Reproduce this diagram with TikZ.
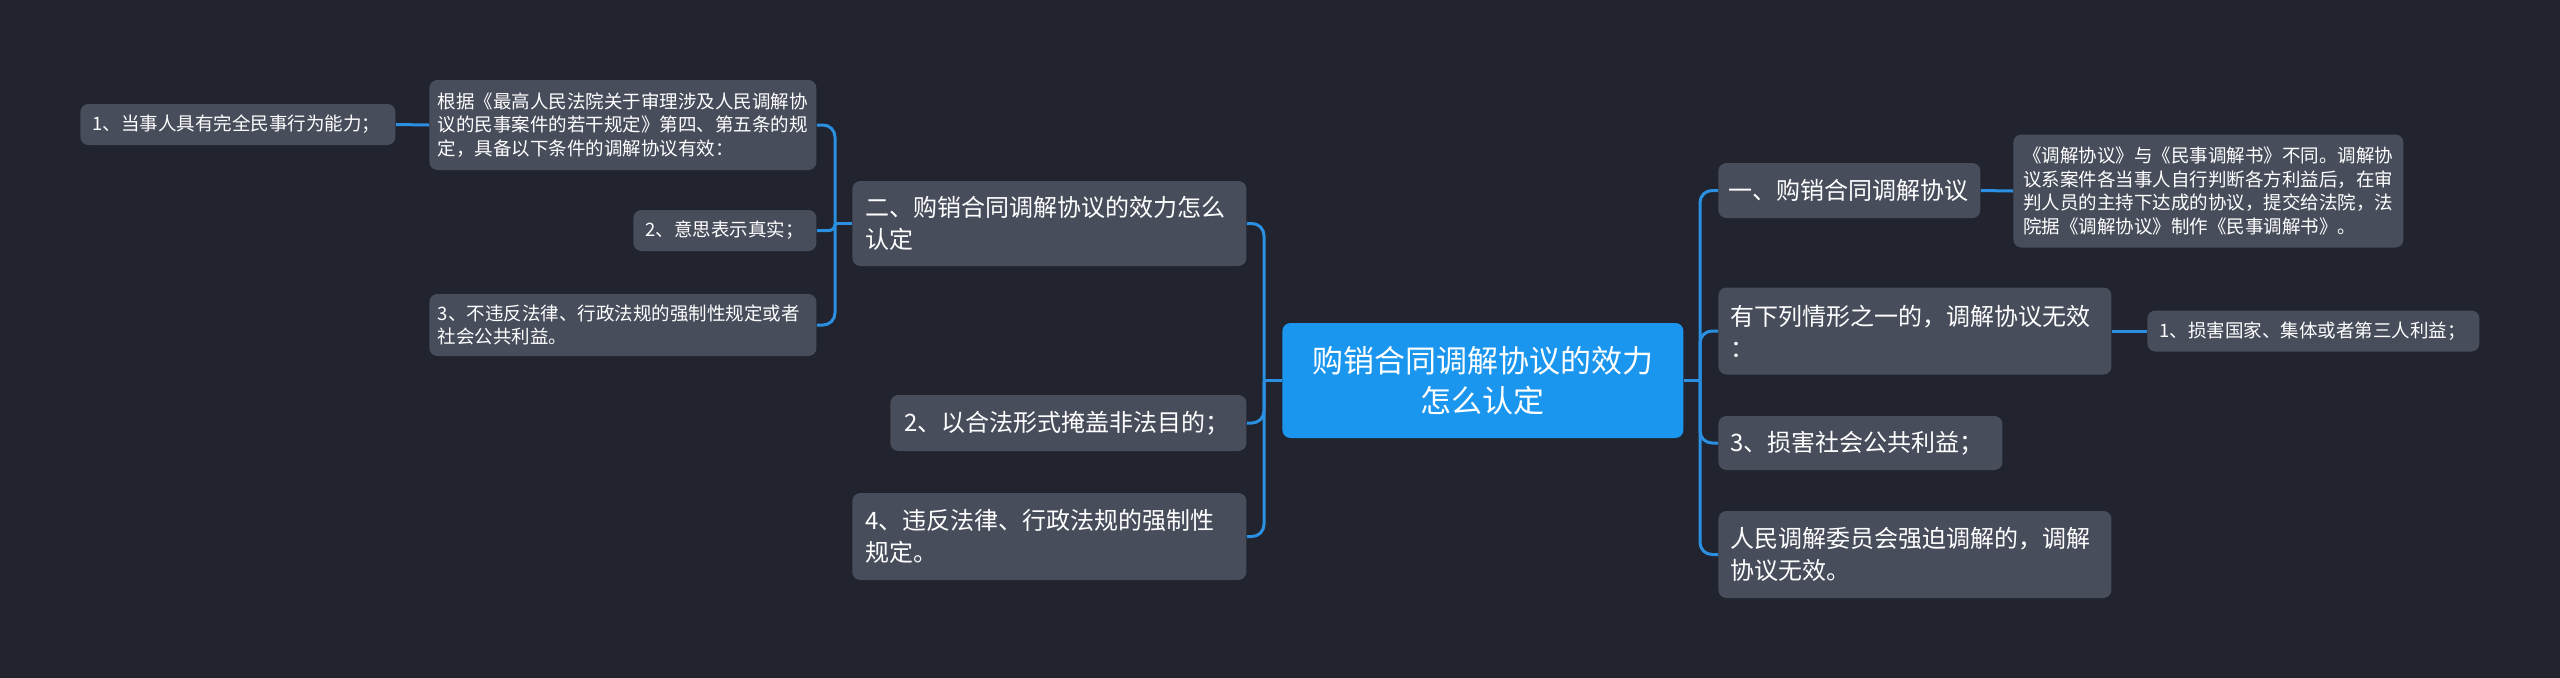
\documentclass[tikz,border=0pt]{standalone}
\usepackage{fontspec}
\setmainfont{Noto Sans CJK SC}
\definecolor{bgdark}{HTML}{21242E}
\definecolor{boxgray}{HTML}{484D5C}
\definecolor{rootblue}{HTML}{1A96EF}
\definecolor{linkblue}{HTML}{2B8FE2}
\begin{document}
\begin{tikzpicture}[x=0.5pt,y=-0.5pt,
	topic/.style={fill=boxgray,text=white,rounded corners=4pt,anchor=west,align=left,inner ysep=0pt,font=\fontsize{12pt}{16pt}\selectfont},
	detail/.style={topic,font=\fontsize{9.25pt}{11.7pt}\selectfont},
	link/.style={draw=linkblue,line width=1.5pt,rounded corners=6pt}]
	\useasboundingbox (0,0) rectangle (2560,677);
	\fill[bgdark] (-10,-10) rectangle (2570,687);
	
	\node[topic,fill=rootblue,align=center,text width=180pt,inner xsep=10.25pt,minimum height=57.5pt,font=\fontsize{15.5pt}{20pt}\selectfont] (root) at (1282,380.5) {购销合同调解协议的效力\\怎么认定};
	
	\node[topic,text width=184pt,inner xsep=6.5pt,minimum height=42.5pt] (validity) at (852,223.5) {二、购销合同调解协议的效力怎么\\认定};
	\node[topic,text width=164pt,inner xsep=7pt,minimum height=28pt] (disguise) at (890,423) {2、以合法形式掩盖非法目的；};
	\node[topic,text width=184pt,inner xsep=6.5pt,minimum height=43.5pt] (mandatory) at (852,536.5) {4、违反法律、行政法规的强制性\\规定。};
	
	\node[detail,text width=185pt,inner xsep=4.25pt,minimum height=45pt] (basis) at (429,125) {根据《最高人民法院关于审理涉及人民调解协\\议的民事案件的若干规定》第四、第五条的规\\定，具备以下条件的调解协议有效：};
	\node[detail,text width=79.5pt,inner xsep=6pt,minimum height=20.5pt] (genuine) at (633,230.5) {2、意思表示真实；};
	\node[detail,text width=185pt,inner xsep=4.25pt,minimum height=31pt] (lawful) at (429,325) {3、不违反法律、行政法规的强制性规定或者\\社会公共利益。};
	\node[detail,text width=145.5pt,inner xsep=6pt,minimum height=20.5pt] (capacity) at (80,124.5) {1、当事人具有完全民事行为能力；};
	
	\node[topic,text width=121pt,inner xsep=5pt,minimum height=27.5pt] (agreement) at (1718,190.5) {一、购销合同调解协议};
	\node[detail,text width=185pt,inner xsep=5pt,minimum height=56.5pt] (differ) at (2013,191) {《调解协议》与《民事调解书》不同。调解协\\议系案件各当事人自行判断各方利益后，在审\\判人员的主持下达成的协议，提交给法院，法\\院据《调解协议》制作《民事调解书》。};
	\node[topic,text width=184.5pt,inner xsep=6pt,minimum height=43.5pt] (invalid) at (1718,331) {有下列情形之一的，调解协议无效\\：};
	\node[detail,text width=154pt,inner xsep=6pt,minimum height=20.5pt] (harm) at (2147,331) {1、损害国家、集体或者第三人利益；};
	\node[topic,text width=130pt,inner xsep=6pt,minimum height=27pt] (public) at (1718,443) {3、损害社会公共利益；};
	\node[topic,text width=184.5pt,inner xsep=6pt,minimum height=43.5pt] (coerce) at (1718,554.5) {人民调解委员会强迫调解的，调解\\协议无效。};
	
	\coordinate (rtrunk) at (1700,380.5);
	\coordinate (ltrunk) at (1264,380.5);
	\coordinate (vtrunk) at (835,223.5);
	
	\draw[link] (root.east) -- (rtrunk);
	\draw[link] (rtrunk) |- (agreement.west);
	\draw[link] (rtrunk) |- (invalid.west);
	\draw[link] (rtrunk) |- (public.west);
	\draw[link] (rtrunk) |- (coerce.west);
	\draw[link] (root.west) -- (ltrunk);
	\draw[link] (ltrunk) |- (validity.east);
	\draw[link] (ltrunk) |- (disguise.east);
	\draw[link] (ltrunk) |- (mandatory.east);
	\draw[link] (validity.west) -- (vtrunk);
	\draw[link] (vtrunk) |- (basis.east);
	\draw[link,rounded corners=3pt] (vtrunk) |- (genuine.east);
	\draw[link] (vtrunk) |- (lawful.east);
	\draw[link] (basis.west) -- (capacity.east);
	\draw[link] (agreement.east) -- (differ.west);
	\draw[link] (invalid.east) -- (harm.west);
\end{tikzpicture}
\end{document}
